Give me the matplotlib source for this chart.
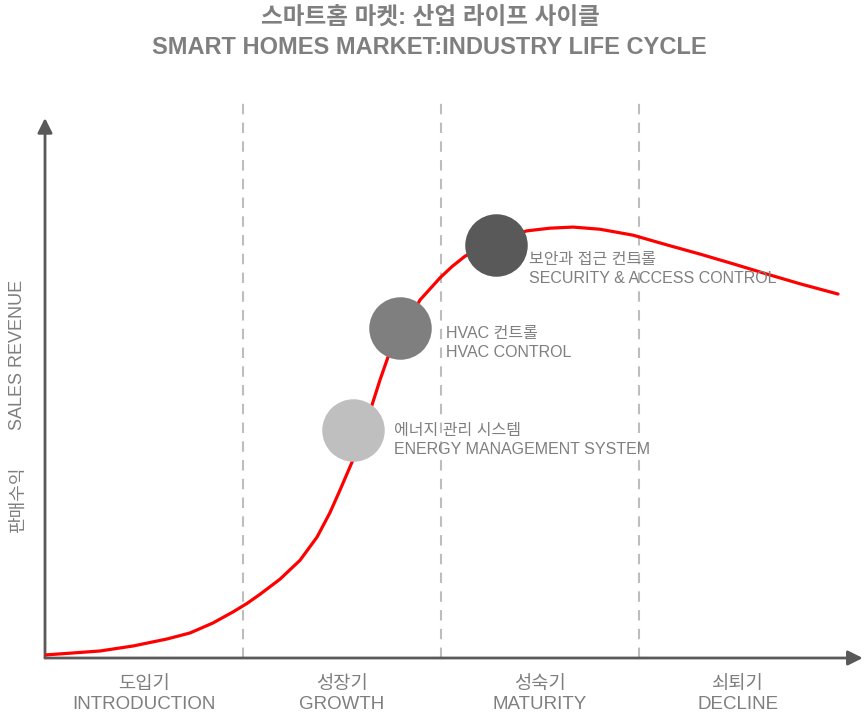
import matplotlib
matplotlib.use("Agg")
import matplotlib.pyplot as plt

# Korean glyphs fall back to Noto Sans CJK KR
FONTS = ['Liberation Sans', 'Noto Sans CJK KR', 'DejaVu Sans']
plt.rcParams['font.family'] = FONTS

# revenue curve (x: stage units, y: % of axis height)
curve_x = [0.000, 0.141, 0.278, 0.444, 0.616, 0.732, 0.848, 0.949, 1.020,
           1.086, 1.187, 1.288, 1.374, 1.439, 1.490, 1.551, 1.652, 1.692,
           1.732, 1.894, 1.995, 2.056, 2.121, 2.278, 2.434, 2.551, 2.667,
           2.803, 2.970, 3.141, 3.308, 3.475, 3.646, 3.813, 4.005]
curve_y = [0.56, 0.93, 1.30, 2.22, 3.52, 4.63, 6.48, 8.52, 10.1,
           11.8, 14.6, 18.1, 22.4, 26.9, 31.1, 36.3, 46.9, 51.5,
           55.7, 66.3, 70.4, 72.5, 74.4, 77.4, 79.1, 79.6, 79.8,
           79.4, 78.3, 76.5, 74.8, 73.0, 71.1, 69.3, 67.4]

# products placed on the curve
product_x = [1.556, 1.793, 2.278]
product_y = [42.2, 61.1, 76.5]
product_ko = ['에너지 관리 시스템', 'HVAC 컨트롤', '보안과 접근 컨트롤']
product_en = ['ENERGY MANAGEMENT SYSTEM', 'HVAC CONTROL', 'SECURITY & ACCESS CONTROL']
product_colors = ['#bfbfbf', '#7f7f7f', '#595959']
label_dx = [41, 46, 33]      # label offset from circle centre, pixels
label_dy = [0, -5, -15]

stages = [1, 2, 3]
stage_ko = ['도입기', '성장기', '성숙기', '쇠퇴기']
stage_en = ['INTRODUCTION', 'GROWTH', 'MATURITY', 'DECLINE']

GRAY = '#7f7f7f'
AXIS = '#595959'
PX = 0.72  # points per pixel at dpi 100

fig = plt.figure(figsize=(8.64, 7.15), dpi=100)
ax = fig.add_axes([45 / 864, 57 / 715, 819 / 864, 564 / 715])
ax.set_xlim(0, 819 / 198)
ax.set_ylim(0, 564 / 5.4)
ax.axis('off')

# stage separators
ax.vlines(stages, 0, 103, colors='#bdbdbd', linestyles=(0, (5, 4)), lw=1.5, zorder=1)

# axes with arrow heads
ax.annotate('', xy=(0, 100), xytext=(0, 0),
            arrowprops=dict(arrowstyle='-|>', color=AXIS, lw=2,
                            mutation_scale=22, shrinkA=0, shrinkB=0),
            annotation_clip=False, zorder=2)
ax.annotate('', xy=(4.13, 0), xytext=(0, 0),
            arrowprops=dict(arrowstyle='-|>', color=AXIS, lw=2,
                            mutation_scale=22, shrinkA=0, shrinkB=0),
            annotation_clip=False, zorder=2)

ax.plot(curve_x, curve_y, color='red', lw=2.3, solid_capstyle='round',
        solid_joinstyle='round', zorder=3)

for i in range(len(product_x)):
    ax.plot(product_x[i], product_y[i], 'o', ms=45, mfc=product_colors[i],
            mec='none', zorder=4)
    ax.annotate(product_ko[i], (product_x[i], product_y[i]),
                xytext=(label_dx[i] * PX, label_dy[i] * PX), textcoords='offset points',
                ha='left', va='center', fontsize=11.5, color=GRAY, zorder=5)
    ax.annotate(product_en[i], (product_x[i], product_y[i]),
                xytext=(label_dx[i] * PX, (label_dy[i] - 19) * PX), textcoords='offset points',
                ha='left', va='center', fontsize=11.5, color=GRAY, zorder=5)

for i in range(len(stage_ko)):
    ax.text(i + 0.5, -4.9, stage_ko[i], ha='center', va='center',
            fontsize=13.5, color=GRAY, clip_on=False)
    ax.text(i + 0.5, -8.7, stage_en[i], ha='center', va='center',
            fontsize=13.5, color=GRAY, clip_on=False)

fig.text(18 / 864, 1 - 355 / 715, 'SALES REVENUE', rotation=90, ha='center',
         va='center', fontsize=13, color=GRAY)
fig.text(18 / 864, 1 - 500 / 715, '판매수익', rotation=90, ha='center',
         va='center', fontsize=13, color=GRAY)

fig.text(430 / 864, 1 - 18 / 715, '스마트홈 마켓: 산업 라이프 사이클', ha='center',
         va='center', fontsize=17, fontweight='bold', color=GRAY)
fig.text(429 / 864, 1 - 47 / 715, 'SMART HOMES MARKET:INDUSTRY LIFE CYCLE', ha='center',
         va='center', fontsize=17, fontweight='bold', color=GRAY)

fig.savefig('out.png', dpi=100)
